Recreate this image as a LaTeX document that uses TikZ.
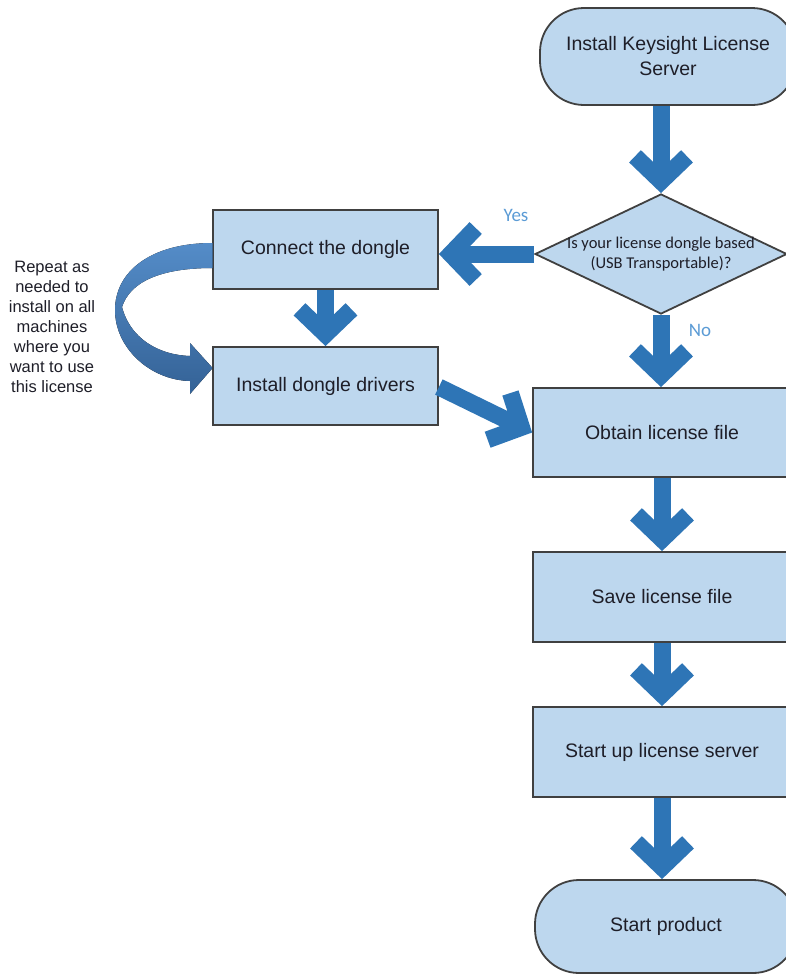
\documentclass[tikz,border=0pt]{standalone}
\usepackage{fontspec}
\setmainfont{Liberation Sans}
\newfontfamily\calib{Carlito}
\usetikzlibrary{arrows.meta,shapes.geometric,calc}
\definecolor{boxfill}{RGB}{189,215,238}
\definecolor{boxline}{RGB}{64,64,64}
\definecolor{arrowblue}{RGB}{46,117,182}
\definecolor{labelblue}{RGB}{91,155,213}
\definecolor{curvetop}{RGB}{84,140,200}
\definecolor{curvebot}{RGB}{52,98,150}
\definecolor{txt}{RGB}{30,30,40}
\begin{document}
\begin{tikzpicture}[x=1pt,y=-1pt,
  box/.style={rectangle, draw=boxline, line width=1.8pt, fill=boxfill, inner sep=0pt,
    font=\fontsize{19.5}{25}\selectfont, text=txt, align=center},
  term/.style={box, rounded corners=44pt},
  decision/.style={diamond, draw=boxline, line width=1.8pt, fill=boxfill, inner sep=0pt},
  qlabel/.style={font=\calib\fontsize{16.5}{20}\selectfont, text=txt, align=center, inner sep=0pt},
  branch/.style={font=\calib\fontsize{19}{22}\selectfont, text=labelblue, inner sep=0pt},
  note/.style={font=\fontsize{16.5}{20}\selectfont, text=txt, align=center, inner sep=0pt},
  fat/.style={draw=arrowblue, line width=17pt, line join=miter,
    -{Straight Barb[length=25pt,width=52pt]}},
  curved/.style={top color=curvetop, bottom color=curvebot, draw=none}
]
\useasboundingbox (0,0) rectangle (786,975);

\node[term, minimum width=256pt, minimum height=97pt] (install) at (668,56.5) {Install Keysight License\\Server};
\node[decision, minimum width=252pt, minimum height=120pt] (q) at (661,254) {};
\node[qlabel] (qtext) at (q.center) {Is your license dongle based\\(USB Transportable)?};
\node[box, minimum width=225pt, minimum height=79pt] (connect) at (325.5,249.5) {Connect the dongle};
\node[box, minimum width=225pt, minimum height=78pt] (drivers) at (325.5,386) {Install dongle drivers};
\node[box, minimum width=258pt, minimum height=89pt] (obtain) at (662,432.5) {Obtain license file};
\node[box, minimum width=258pt, minimum height=90pt] (save) at (662,597) {Save license file};
\node[box, minimum width=258pt, minimum height=90pt] (startup) at (662,752) {Start up license server};
\node[term, minimum width=262pt, minimum height=93pt] (product) at (666,926.5) {Start product};

\node[branch] (yes) at (516,215) {Yes};
\node[branch] (no) at (700,330) {No};
\node[note] (repeat) at (52,327) {Repeat as\\needed to\\install on all\\machines\\where you\\want to use\\this license};

\draw[fat] (install.south -| q.north) -- (q.north);
\draw[fat] (q.west) -- (q.west -| connect.east);
\draw[fat] (connect.south) -- (drivers.north);
\draw[fat] (q.south) -- (q.south |- obtain.north);
\draw[fat] ($(drivers.east)+(0,1)$) -- (obtain.west);
\draw[fat] (obtain.south) -- (save.north);
\draw[fat] (save.south) -- (startup.north);
\draw[fat] (startup.south) -- (startup.south |- product.north);

% curved repeat arrow
\fill[curved]
  ($(connect.west)+(0.5,-6.5)$) .. controls (150,243) and (115,272) .. (115,310)
  .. controls (115,348) and (150,380) .. (190,381)
  -- (190,394) -- ($(drivers.west)+(0.5,-18)$) -- (190,343) -- (190,356)
  .. controls (158,355) and (130,338) .. (122,307)
  .. controls (130,282) and (160,268) .. ($(connect.west)+(0.5,18.5)$) -- cycle;
\end{tikzpicture}
\end{document}
